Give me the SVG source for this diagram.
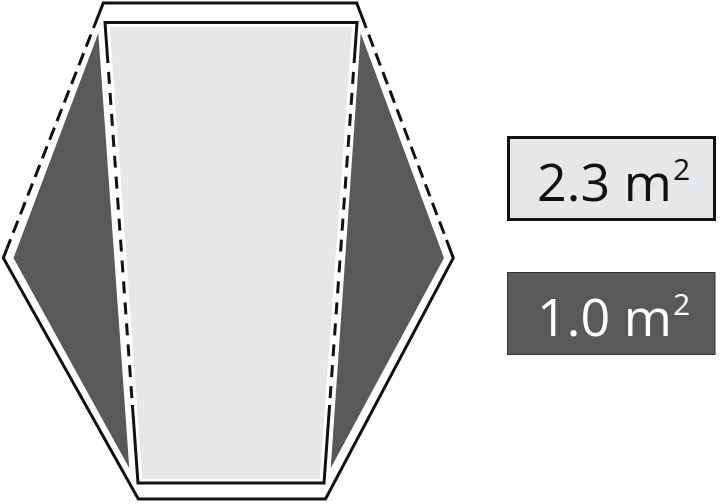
<svg xmlns="http://www.w3.org/2000/svg" width="720" height="504" viewBox="0 0 720 504">
<style>
.ln{fill:none;stroke:#111;stroke-width:3;stroke-linejoin:miter;stroke-miterlimit:10}
.dsh-o{stroke-dasharray:13 7;stroke-dashoffset:13}
.dsh-i{stroke-dasharray:12 9;stroke-dashoffset:12}
.dark{fill:#58595b}
.light{fill:#e6e7e8}
.lbl{font-family:"Open Sans","Liberation Sans",sans-serif;font-size:52px}
.sup{font-size:30px}
</style>
<rect width="720" height="504" fill="#fff"/>
<g id="areas">
<polygon class="light" points="109.8,26.5 352.2,26.5 319.8,478.5 142.2,478.5"/>
<polygon class="dark" points="98.3,33.3 13.5,258 129.3,468.3"/>
<polygon class="dark" points="360.7,33.3 444,258 330.7,468.3"/>
</g>
<g id="outer-outline">
<path class="ln" d="M93.5,28 L103.3,3 L356.7,3 L366.2,28"/>
<path class="ln" d="M446.5,240 L453.3,258 L325.5,499 L138.3,499 L3.3,258 L6.8,249"/>
<path class="ln dsh-o" d="M93.5,28 L6.8,249"/>
<path class="ln dsh-o" d="M366.2,28 L446.5,240"/>
</g>
<g id="inner-outline">
<path class="ln" d="M107.9,63 L105,22.5 L357,22.5 L354.1,63"/>
<path class="ln" d="M329.6,405 L324,483 L138,483 L132.4,405"/>
<path class="ln dsh-i" d="M107.9,63 L132.4,405"/>
<path class="ln dsh-i" d="M354.1,63 L329.6,405"/>
</g>
<g id="legend-light">
<rect x="508.5" y="137.5" width="206" height="82" fill="#e6e7e8" stroke="#111" stroke-width="3"/>
<text class="lbl" x="537" y="200.7" fill="#111">2.3 m<tspan class="sup" x="673" y="180">2</tspan></text>
</g>
<g id="legend-dark">
<rect x="507.5" y="272.5" width="207.5" height="82" fill="#58595b" stroke="#333" stroke-width="1"/>
<text class="lbl" x="537" y="335.7" fill="#fff">1.0 m<tspan class="sup" x="673" y="315">2</tspan></text>
</g>
</svg>
